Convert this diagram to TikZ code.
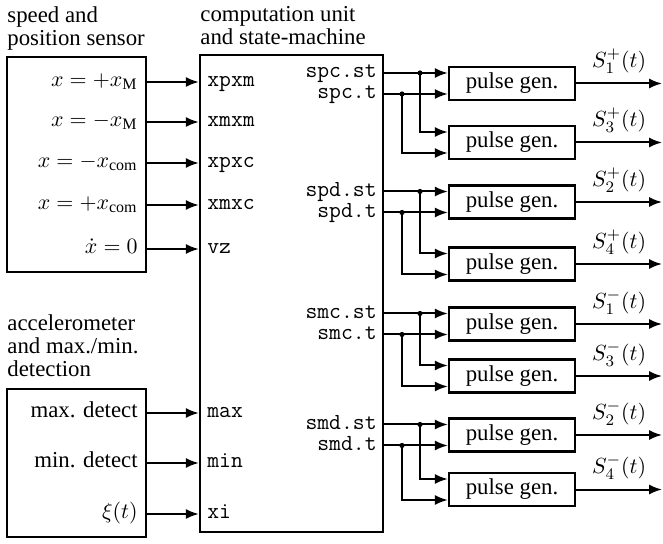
\documentclass[tikz,border=0pt]{standalone}
\usepackage{fontspec}
\setmainfont{Liberation Serif}
\setmonofont{Latin Modern Mono}
\newfontfamily\lblfont{Liberation Serif}
\usetikzlibrary{arrows.meta}

\begin{document}
\begin{tikzpicture}[
    x=0.5pt, y=-0.5pt,
    every node/.style={font=\lblfont\fontsize{11.4}{11.6}\selectfont},
    ttl/.style={anchor=north west, inner sep=0pt, align=left},
    block/.style={draw, line width=1.1pt, inner sep=0pt},
    pulse/.style={draw, line width=1.1pt, minimum width=63pt, minimum height=16.5pt, inner sep=0pt},
    inlbl/.style={anchor=mid east, inner sep=0pt},
    port/.style={anchor=mid west, inner sep=0pt, font=\ttfamily\fontsize{11.5}{12}\selectfont},
    outport/.style={anchor=mid east, inner sep=0pt, font=\ttfamily\fontsize{11.5}{12}\selectfont},
    sig/.style={line width=1pt, -{Latex[length=6.5pt,width=5pt]}},
    jdot/.style={circle, fill, inner sep=0pt, minimum size=2.6pt},
  ]
    \useasboundingbox (0,0) rectangle (663,544);

    % blocks and titles
    \node[block, minimum width=69.5pt, minimum height=107.5pt] (sens) at (76.5,164.5) {};
    \node[block, minimum width=69.5pt, minimum height=74pt] (acc) at (76.5,463) {};
    \node[block, minimum width=91.5pt, minimum height=238.5pt] (cu) at (291.5,293.5) {};
    \node[ttl] (sensttl) at (7,6) {speed and\\position sensor};
    \node[ttl] (cuttl) at (200,6) {computation unit\\and state-machine};
    \node[ttl] (accttl) at (7,314) {accelerometer\\and max./min.\\detection};

    % sensor outputs
    \node[inlbl] (xpm) at (138,82) {$x=+x_{\mathrm{M}}$};
    \node[inlbl] (xmm) at (138,122) {$x=-x_{\mathrm{M}}$};
    \node[inlbl] (xmc) at (138,163) {$x=-x_{\mathrm{com}}$};
    \node[inlbl] (xpc) at (138,205) {$x=+x_{\mathrm{com}}$};
    \node[inlbl] (xdot) at (138,249) {$\dot{x}=0$};
    \node[inlbl] (maxd) at (138,413) {max. detect};
    \node[inlbl] (mind) at (138,463) {min. detect};
    \node[inlbl] (xit) at (138,514) {$\xi(t)$};

    % computation unit inputs
    \node[port] (pxpxm) at (207,82) {xpxm};
    \node[port] (pxmxm) at (207,122) {xmxm};
    \node[port] (pxpxc) at (207,163) {xpxc};
    \node[port] (pxmxc) at (207,205) {xmxc};
    \node[port] (pvz) at (207,249) {vz};
    \node[port] (pmax) at (207,413) {max};
    \node[port] (pmin) at (207,463) {min};
    \node[port] (pxi) at (207,514) {xi};

    \draw[sig] (sens.east |- pxpxm.mid) -- (cu.west |- pxpxm.mid);
    \draw[sig] (sens.east |- pxmxm.mid) -- (cu.west |- pxmxm.mid);
    \draw[sig] (sens.east |- pxpxc.mid) -- (cu.west |- pxpxc.mid);
    \draw[sig] (sens.east |- pxmxc.mid) -- (cu.west |- pxmxc.mid);
    \draw[sig] (sens.east |- pvz.mid) -- (cu.west |- pvz.mid);
    \draw[sig] (acc.east |- pmax.mid) -- (cu.west |- pmax.mid);
    \draw[sig] (acc.east |- pmin.mid) -- (cu.west |- pmin.mid);
    \draw[sig] (acc.east |- pxi.mid) -- (cu.west |- pxi.mid);

    % computation unit outputs
    \node[outport] (spcst) at (377,73) {spc.st};
    \node[outport] (spct) at (377,94) {spc.t};
    \node[outport] (spdst) at (377,191.5) {spd.st};
    \node[outport] (spdt) at (377,212.5) {spd.t};
    \node[outport] (smcst) at (377,313.5) {smc.st};
    \node[outport] (smct) at (377,334.5) {smc.t};
    \node[outport] (smdst) at (377,424.5) {smd.st};
    \node[outport] (smdt) at (377,445.5) {smd.t};

    % pulse generators
    \node[pulse] (pg1p) at (512,83.5) {pulse gen.};
    \node[pulse] (pg3p) at (512,142.5) {pulse gen.};
    \node[pulse] (pg2p) at (512,202) {pulse gen.};
    \node[pulse] (pg4p) at (512,264) {pulse gen.};
    \node[pulse] (pg1m) at (512,324) {pulse gen.};
    \node[pulse] (pg3m) at (512,376) {pulse gen.};
    \node[pulse] (pg2m) at (512,435) {pulse gen.};
    \node[pulse] (pg4m) at (512,489.5) {pulse gen.};

    \coordinate (jst) at (420,0);
    \coordinate (jt) at (402,0);

    % spc
    \draw[sig] (cu.east |- spcst.mid) -- (pg1p.west |- spcst.mid);
    \draw[sig] (cu.east |- spct.mid) -- (pg1p.west |- spct.mid);
    \node[jdot] (jspcst) at (jst |- spcst.mid) {};
    \node[jdot] (jspct) at (jt |- spct.mid) {};
    \draw[sig] (jspcst.center) |- ([yshift=5.25pt]pg3p.west);
    \draw[sig] (jspct.center) |- ([yshift=-5.25pt]pg3p.west);
    % spd
    \draw[sig] (cu.east |- spdst.mid) -- (pg2p.west |- spdst.mid);
    \draw[sig] (cu.east |- spdt.mid) -- (pg2p.west |- spdt.mid);
    \node[jdot] (jspdst) at (jst |- spdst.mid) {};
    \node[jdot] (jspdt) at (jt |- spdt.mid) {};
    \draw[sig] (jspdst.center) |- ([yshift=5.25pt]pg4p.west);
    \draw[sig] (jspdt.center) |- ([yshift=-5.25pt]pg4p.west);
    % smc
    \draw[sig] (cu.east |- smcst.mid) -- (pg1m.west |- smcst.mid);
    \draw[sig] (cu.east |- smct.mid) -- (pg1m.west |- smct.mid);
    \node[jdot] (jsmcst) at (jst |- smcst.mid) {};
    \node[jdot] (jsmct) at (jt |- smct.mid) {};
    \draw[sig] (jsmcst.center) |- ([yshift=5.25pt]pg3m.west);
    \draw[sig] (jsmct.center) |- ([yshift=-5.25pt]pg3m.west);
    % smd
    \draw[sig] (cu.east |- smdst.mid) -- (pg2m.west |- smdst.mid);
    \draw[sig] (cu.east |- smdt.mid) -- (pg2m.west |- smdt.mid);
    \node[jdot] (jsmdst) at (jst |- smdst.mid) {};
    \node[jdot] (jsmdt) at (jt |- smdt.mid) {};
    \draw[sig] (jsmdst.center) |- ([yshift=5.25pt]pg4m.west);
    \draw[sig] (jsmdt.center) |- ([yshift=-5.25pt]pg4m.west);

    % switching signals
    \draw[sig] (pg1p.east) -- ++(86,0) node[midway, above=1pt] (s1p) {$S_1^+(t)$};
    \draw[sig] (pg3p.east) -- ++(86,0) node[midway, above=1pt] (s3p) {$S_3^+(t)$};
    \draw[sig] (pg2p.east) -- ++(86,0) node[midway, above=1pt] (s2p) {$S_2^+(t)$};
    \draw[sig] (pg4p.east) -- ++(86,0) node[midway, above=1pt] (s4p) {$S_4^+(t)$};
    \draw[sig] (pg1m.east) -- ++(86,0) node[midway, above=1pt] (s1m) {$S_1^-(t)$};
    \draw[sig] (pg3m.east) -- ++(86,0) node[midway, above=1pt] (s3m) {$S_3^-(t)$};
    \draw[sig] (pg2m.east) -- ++(86,0) node[midway, above=1pt] (s2m) {$S_2^-(t)$};
    \draw[sig] (pg4m.east) -- ++(86,0) node[midway, above=1pt] (s4m) {$S_4^-(t)$};
  \end{tikzpicture}
\end{document}
